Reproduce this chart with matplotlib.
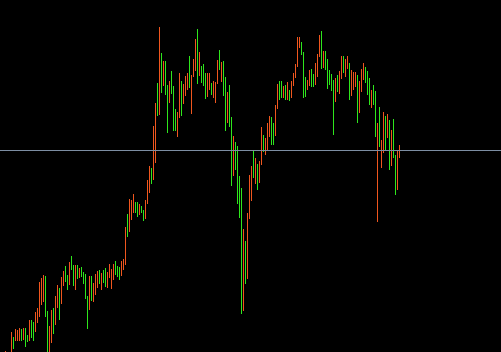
import matplotlib
matplotlib.use('Agg')
import matplotlib.pyplot as plt

# bar highs / lows (price units), one per bar
highs = [1, -3, -2, 20, 15, 23, 22, 24, 23, 24,
         24, 17, 32, 32, 30, 40, 44, 70, 74, 77,
         76, 41, 26, 42, 44, 56, 67, 64, 75, 81,
         86, 77, 90, 96, 87, 87, 87, 84, 85, 80,
         78, 56, 76, 76, 69, 78, 81, 82, 79, 82,
         84, 80, 88, 83, 88, 91, 86, 85, 91, 93,
         125, 138, 153, 152, 158, 150, 150, 148, 146, 142,
         152, 172, 186, 184, 226, 249, 269, 325, 299, 291,
         291, 267, 271, 281, 266, 243, 240, 279, 271, 268,
         276, 279, 296, 277, 293, 313, 323, 300, 286, 288,
         279, 279, 279, 269, 271, 270, 292, 302, 290, 291,
         275, 260, 267, 235, 216, 210, 206, 176, 164, 123,
         111, 139, 177, 186, 201, 194, 188, 191, 225, 217,
         214, 229, 236, 235, 229, 247, 268, 271, 271, 266,
         267, 270, 262, 271, 279, 288, 315, 315, 310, 300,
         275, 272, 282, 283, 278, 289, 298, 317, 321, 301,
         301, 293, 282, 278, 272, 274, 277, 281, 296, 296,
         293, 296, 289, 282, 280, 280, 277, 271, 283, 289,
         285, 281, 274, 262, 267, 261, 229, 245, 212, 240,
         236, 238, 232, 222, 233, 197, 201, 207]
lows = [-8, -18, -16, -6, 4, 12, 12, 12, 12, 13,
        6, 11, 12, 15, 12, 21, 30, 36, 48, 51,
        36, -8, -6, 10, 19, 28, 45, 33, 49, 67,
        71, 63, 68, 83, 67, 63, 74, 75, 76, 69,
        54, 24, 43, 52, 51, 58, 65, 69, 63, 70,
        66, 65, 75, 64, 73, 78, 76, 73, 77, 83,
        88, 116, 121, 133, 140, 140, 136, 138, 140, 132,
        134, 149, 160, 169, 173, 190, 237, 238, 260, 267,
        258, 220, 250, 259, 222, 222, 216, 235, 237, 249,
        257, 263, 265, 239, 276, 282, 269, 277, 270, 267,
        254, 256, 263, 258, 255, 250, 269, 283, 271, 257,
        222, 230, 226, 167, 177, 183, 149, 135, 39, 42,
        69, 74, 134, 152, 175, 169, 163, 170, 188, 201,
        198, 203, 216, 208, 208, 217, 244, 253, 255, 255,
        253, 253, 252, 255, 267, 275, 286, 305, 298, 255,
        256, 263, 267, 266, 266, 268, 276, 296, 284, 285,
        283, 264, 268, 262, 218, 251, 261, 259, 274, 280,
        276, 284, 253, 257, 263, 266, 230, 240, 261, 273,
        270, 258, 248, 245, 248, 216, 131, 206, 185, 200,
        202, 215, 183, 187, 195, 158, 163, 195]
# g = up bar, o = down bar
direction = ("oooogooogo" "ggoggooooo" "ggoogoogoo" "ggoggogogg" "ggogooogog"
             "goooogggoo" "ogoooggogg" "ooogoogogo" "ggogggoogo" "oogooogogg"
             "googooogog" "goggoggggo" "gooogogoog" "oooggooggo" "gogooooogg"
             "googgooogo" "gggggogoog" "oogooogooo" "gggoggogoo" "gogoggoo")
level = 202  # horizontal line

up_color = '#2ee61c'
down_color = '#f0561e'

fig = plt.figure(figsize=(5.01, 3.52), dpi=100, facecolor='black')
ax = fig.add_axes([0, 0, 1, 1])
ax.set_facecolor('black')

x = range(len(highs))
colors = [up_color if d == 'g' else down_color for d in direction]
ax.vlines(x, lows, highs, colors=colors, linewidth=0.72, antialiased=False)

ax.axhline(level, color='#7d8ea3', linewidth=0.72, antialiased=False)

ax.set_xlim(-2.4, 248.1)
ax.set_ylim(0, 352)
ax.axis('off')

fig.savefig('out.png', dpi=100, facecolor='black')
